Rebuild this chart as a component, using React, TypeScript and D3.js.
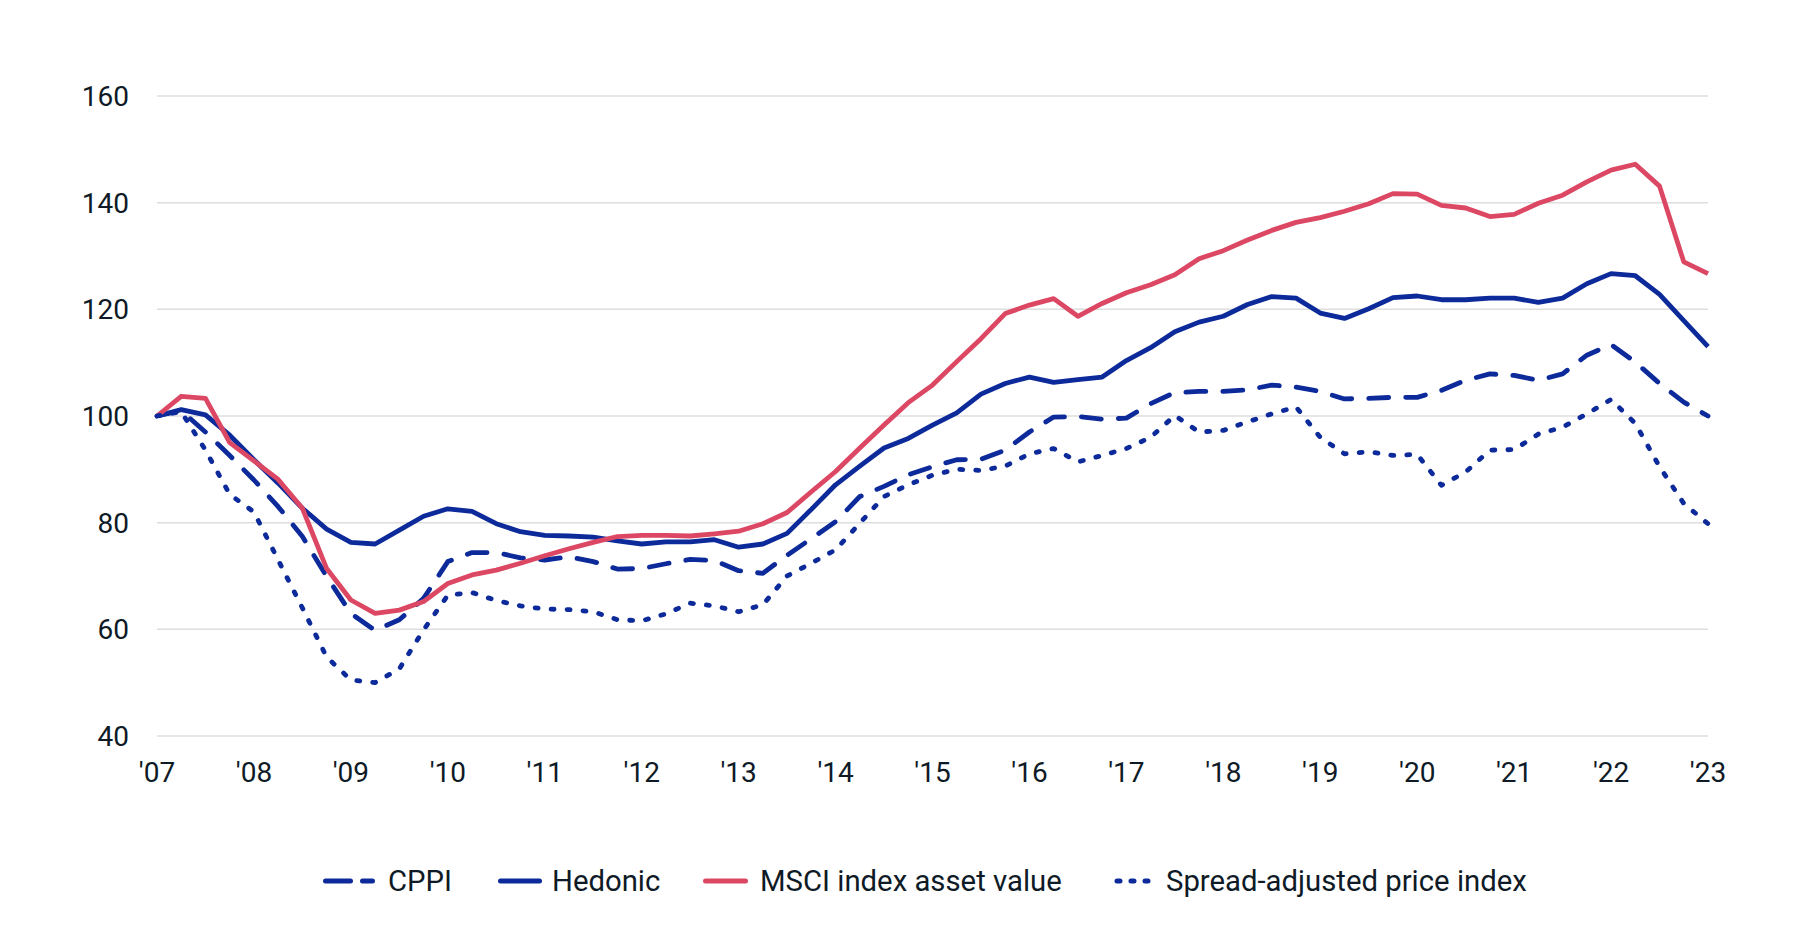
import React from "react";
import * as d3 from "d3";

const quarters = d3.range(65); // 2007Q1 .. 2023Q1

const cppi = [
  100, 101, 97, 92.6, 88, 83, 77.4, 69.9, 63, 59.8, 61.8, 65.8, 72.7, 74.4, 74.4, 73.4,
  73, 73.6, 72.7, 71.3, 71.4, 72.3, 73.1, 72.9, 71, 70.5, 73.9, 77, 80.2, 84.9, 86.8, 89,
  90.5, 91.8, 91.9, 93.6, 97, 99.8, 99.9, 99.4, 99.6, 102.3, 104.4, 104.6, 104.6, 104.9, 105.8, 105.4,
  104.6, 103.2, 103.3, 103.5, 103.5, 104.8, 106.7, 107.9, 107.6, 106.7, 107.9, 111.4, 113.4, 110.1, 106.1, 102.6,
  100,
];

const hedonic = [
  100, 101.2, 100.2, 96.4, 91.8, 87.4, 82.7, 78.8, 76.3, 76, 78.6, 81.2, 82.6, 82.1, 79.8, 78.3,
  77.6, 77.5, 77.3, 76.6, 76, 76.4, 76.4, 76.8, 75.4, 76, 78, 82.5, 87.1, 90.6, 94, 95.8,
  98.3, 100.6, 104.1, 106.1, 107.3, 106.3, 106.8, 107.3, 110.4, 112.8, 115.8, 117.6, 118.7, 120.9, 122.4, 122.1,
  119.3, 118.3, 120.1, 122.2, 122.5, 121.8, 121.8, 122.1, 122.1, 121.3, 122.1, 124.8, 126.7, 126.3, 122.8, 117.9,
  113,
];

const msci = [
  100, 103.7, 103.3, 95, 91.6, 88.1, 82.7, 71.4, 65.5, 63, 63.6, 65.2, 68.6, 70.2, 71.1, 72.4,
  73.8, 75.1, 76.3, 77.4, 77.6, 77.6, 77.5, 77.9, 78.4, 79.8, 81.9, 85.8, 89.6, 94, 98.3, 102.5,
  105.8, 110.2, 114.5, 119.2, 120.8, 122, 118.7, 121.1, 123.1, 124.6, 126.5, 129.5, 131, 133, 134.8, 136.3,
  137.2, 138.4, 139.8, 141.7, 141.6, 139.5, 139, 137.4, 137.8, 139.9, 141.4, 143.9, 146.1, 147.2, 143.1, 128.9,
  126.7,
];

const spread = [
  100, 100.8, 93.6, 85.3, 82, 73, 64, 54.8, 50.5, 50, 52.6, 59.9, 66.4, 66.9, 65.4, 64.4,
  63.8, 63.7, 63.3, 61.8, 61.6, 62.9, 64.9, 64.4, 63.3, 64.6, 70, 72.4, 74.9, 79.9, 84.9, 87.1,
  88.9, 90, 89.8, 90.6, 92.9, 93.9, 91.4, 92.6, 93.9, 96, 100.1, 97, 97.3, 98.9, 100.4, 101.7,
  96, 92.9, 93.3, 92.6, 92.8, 87, 89.5, 93.6, 93.7, 96.6, 97.9, 100.4, 103.1, 98.6, 90.5, 83.6,
  79.8,
];

const yTicks = [40, 60, 80, 100, 120, 140, 160];
const xTickLabels = [
  "'07", "'08", "'09", "'10", "'11", "'12", "'13", "'14", "'15",
  "'16", "'17", "'18", "'19", "'20", "'21", "'22", "'23",
];

const BLUE = "#0d2a9a";
const PINK = "#dc4864";
const TEXT = "#0e1a26";
const GRID = "#dedede";
const FONT = "Roboto, 'Noto Sans', sans-serif";

type Series = {
  name: string;
  values: number[];
  color: string;
  dash: string | null;
  legendDash: string | null;
};

const series: Series[] = [
  { name: "CPPI", values: cppi, color: BLUE, dash: "20 17", legendDash: "25 12" },
  { name: "Hedonic", values: hedonic, color: BLUE, dash: null, legendDash: null },
  { name: "MSCI index asset value", values: msci, color: PINK, dash: null, legendDash: null },
  { name: "Spread-adjusted price index", values: spread, color: BLUE, dash: "3 13", legendDash: "3 11" },
];

// legend layout (swatch start, swatch end, text x)
const legendLayout = [
  { x1: 325.5, x2: 372.5, tx: 388 },
  { x1: 500.5, x2: 539.5, tx: 552 },
  { x1: 705.5, x2: 745.5, tx: 760 },
  { x1: 1117, x2: 1150, tx: 1166 },
];

export default function App() {
  const W = 1812;
  const H = 937;
  const x = d3.scaleLinear().domain([0, 64]).range([157, 1708]);
  const y = d3.scaleLinear().domain([40, 160]).range([736, 96]);
  const line = d3
    .line<number>()
    .x((_, i) => x(quarters[i]))
    .y((d) => y(d));

  return (
    <svg
      width={W}
      height={H}
      style={{ position: "absolute", left: 0, top: 0, background: "#fff" }}
      fontFamily={FONT}
    >
      <rect x={0} y={0} width={W} height={H} fill="#fff" />
      {yTicks.map((t) => (
        <g key={t}>
          <line x1={x(0)} x2={x(64)} y1={y(t)} y2={y(t)} stroke={GRID} strokeWidth={1.5} />
          <text
            x={129}
            y={y(t)}
            dy="0.355em"
            textAnchor="end"
            fontSize={28}
            fill={TEXT}
          >
            {t}
          </text>
        </g>
      ))}
      {xTickLabels.map((lab, i) => (
        <text key={lab} x={x(i * 4)} y={782} textAnchor="middle" fontSize={28} fill={TEXT}>
          {lab}
        </text>
      ))}
      {series.map((s) => (
        <path
          key={s.name}
          d={line(s.values) || ""}
          fill="none"
          stroke={s.color}
          strokeWidth={4.8}
          strokeDasharray={s.dash || undefined}
          strokeLinecap={s.dash ? "round" : "butt"}
          strokeLinejoin="round"
        />
      ))}
      {series.map((s, i) => {
        const L = legendLayout[i];
        return (
          <g key={"lg" + s.name}>
            <line
              x1={L.x1}
              x2={L.x2}
              y1={881}
              y2={881}
              stroke={s.color}
              strokeWidth={5}
              strokeLinecap="round"
              strokeDasharray={s.legendDash || undefined}
            />
            <text x={L.tx} y={881} dy="0.355em" fontSize={29.3} fill={TEXT}>
              {s.name}
            </text>
          </g>
        );
      })}
    </svg>
  );
}
